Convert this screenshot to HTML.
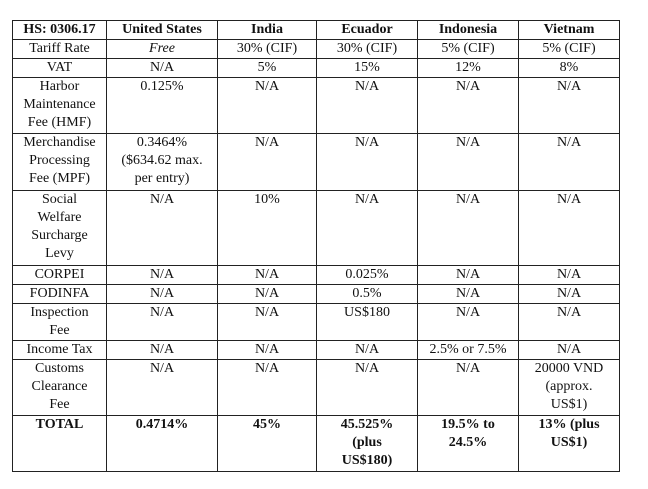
<!DOCTYPE html>
<html><head><style>
body{margin:0;background:#fff;width:648px;height:489px;overflow:hidden}
table{position:absolute;left:12px;top:20px;border-collapse:collapse;table-layout:fixed;font-family:"Liberation Serif",serif;font-size:14px;color:#111}
td{border:1px solid #222;padding:0;text-align:center;vertical-align:top;line-height:18px;overflow:hidden;white-space:nowrap}
.b{font-weight:bold}
</style></head><body>
<table>
<colgroup><col style="width:94px"><col style="width:111px"><col style="width:99px"><col style="width:101px"><col style="width:101px"><col style="width:101px"></colgroup>
<tr style="height:18px" class="b"><td>HS: 0306.17</td><td>United States</td><td>India</td><td>Ecuador</td><td>Indonesia</td><td>Vietnam</td></tr>
<tr style="height:18px"><td>Tariff Rate</td><td><i>Free</i></td><td>30% (CIF)</td><td>30% (CIF)</td><td>5% (CIF)</td><td>5% (CIF)</td></tr>
<tr style="height:18px"><td>VAT</td><td>N/A</td><td>5%</td><td>15%</td><td>12%</td><td>8%</td></tr>
<tr style="height:56px"><td>Harbor<br>Maintenance<br>Fee (HMF)</td><td>0.125%</td><td>N/A</td><td>N/A</td><td>N/A</td><td>N/A</td></tr>
<tr style="height:57px"><td>Merchandise<br>Processing<br>Fee (MPF)</td><td>0.3464%<br>($634.62 max.<br>per entry)</td><td>N/A</td><td>N/A</td><td>N/A</td><td>N/A</td></tr>
<tr style="height:75px"><td>Social<br>Welfare<br>Surcharge<br>Levy</td><td>N/A</td><td>10%</td><td>N/A</td><td>N/A</td><td>N/A</td></tr>
<tr style="height:18px"><td>CORPEI</td><td>N/A</td><td>N/A</td><td>0.025%</td><td>N/A</td><td>N/A</td></tr>
<tr style="height:18px"><td>FODINFA</td><td>N/A</td><td>N/A</td><td>0.5%</td><td>N/A</td><td>N/A</td></tr>
<tr style="height:36px"><td>Inspection<br>Fee</td><td>N/A</td><td>N/A</td><td>US$180</td><td>N/A</td><td>N/A</td></tr>
<tr style="height:18px"><td>Income Tax</td><td>N/A</td><td>N/A</td><td>N/A</td><td>2.5% or 7.5%</td><td>N/A</td></tr>
<tr style="height:56px"><td>Customs<br>Clearance<br>Fee</td><td>N/A</td><td>N/A</td><td>N/A</td><td>N/A</td><td>20000 VND<br>(approx.<br>US$1)</td></tr>
<tr style="height:56px" class="b"><td>TOTAL</td><td>0.4714%</td><td>45%</td><td>45.525%<br>(plus<br>US$180)</td><td>19.5% to<br>24.5%</td><td>13% (plus<br>US$1)</td></tr>
</table>
</body></html>
